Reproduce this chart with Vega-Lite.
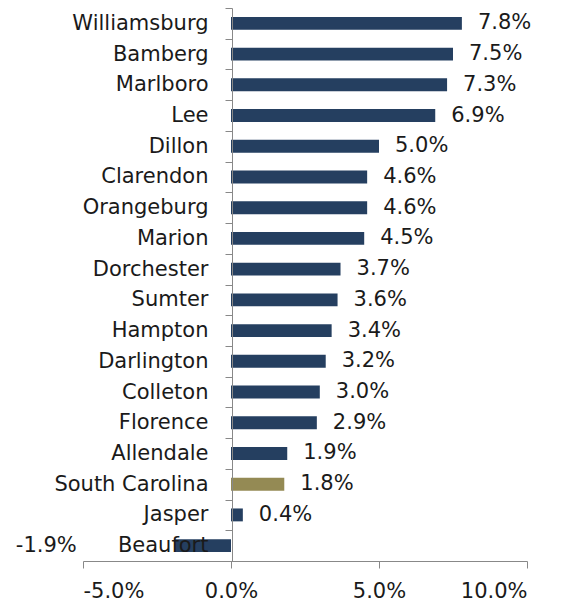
{
  "$schema": "https://vega.github.io/schema/vega-lite/v6.json",
  "width": 444,
  "height": 553,
  "autosize": {"type": "none"},
  "padding": {"left": 83, "top": 8, "right": 47, "bottom": 42},
  "background": "white",
  "config": {
    "view": {"stroke": null},
    "locale": {"number": {"decimal": ".", "thousands": ",", "grouping": [3], "currency": ["$", ""], "minus": "-"}},
    "font": "DejaVu Sans"
  },
  "data": {
    "values": [
      {"county": "Williamsburg", "v": 0.078, "group": "County"},
      {"county": "Bamberg", "v": 0.075, "group": "County"},
      {"county": "Marlboro", "v": 0.073, "group": "County"},
      {"county": "Lee", "v": 0.069, "group": "County"},
      {"county": "Dillon", "v": 0.050, "group": "County"},
      {"county": "Clarendon", "v": 0.046, "group": "County"},
      {"county": "Orangeburg", "v": 0.046, "group": "County"},
      {"county": "Marion", "v": 0.045, "group": "County"},
      {"county": "Dorchester", "v": 0.037, "group": "County"},
      {"county": "Sumter", "v": 0.036, "group": "County"},
      {"county": "Hampton", "v": 0.034, "group": "County"},
      {"county": "Darlington", "v": 0.032, "group": "County"},
      {"county": "Colleton", "v": 0.030, "group": "County"},
      {"county": "Florence", "v": 0.029, "group": "County"},
      {"county": "Allendale", "v": 0.019, "group": "County"},
      {"county": "South Carolina", "v": 0.018, "group": "State"},
      {"county": "Jasper", "v": 0.004, "group": "County"},
      {"county": "Beaufort", "v": -0.019, "group": "County"}
    ]
  },
  "encoding": {
    "y": {
      "field": "county",
      "type": "nominal",
      "sort": null,
      "scale": {"paddingInner": 0, "paddingOuter": 0},
      "axis": {
        "title": null,
        "offset": -149,
        "tickBand": "extent",
        "tickSize": 7,
        "labelPadding": 17,
        "labelFontSize": 21,
        "labelColor": "#1a1a1a",
        "domainColor": "#888888",
        "tickColor": "#888888",
        "labelFont": "DejaVu Sans",
        "zindex": 1
      }
    },
    "x": {
      "field": "v",
      "type": "quantitative",
      "scale": {"domain": [-0.05, 0.1], "nice": false},
      "axis": {
        "title": null,
        "values": [-0.05, 0, 0.05, 0.1],
        "format": ".1%",
        "grid": false,
        "tickSize": 7,
        "labelPadding": 12,
        "labelFontSize": 21,
        "labelColor": "#1a1a1a",
        "domainColor": "#888888",
        "tickColor": "#888888",
        "labelFont": "DejaVu Sans"
      }
    }
  },
  "layer": [
    {
      "mark": {"type": "bar", "height": {"band": 0.42}},
      "encoding": {
        "color": {
          "field": "group",
          "type": "nominal",
          "scale": {"domain": ["County", "State"], "range": ["#253F60", "#948A54"]},
          "legend": null
        }
      }
    },
    {
      "transform": [{"filter": "datum.v >= 0"}],
      "mark": {"type": "text", "align": "left", "baseline": "middle", "dx": 16, "fontSize": 21, "color": "#1a1a1a", "font": "DejaVu Sans"},
      "encoding": {"text": {"field": "v", "type": "quantitative", "format": ".1%"}}
    },
    {
      "transform": [{"filter": "datum.v < 0"}],
      "mark": {"type": "text", "align": "right", "baseline": "middle", "dx": -98, "fontSize": 21, "color": "#1a1a1a", "font": "DejaVu Sans"},
      "encoding": {"text": {"field": "v", "type": "quantitative", "format": ".1%"}}
    }
  ]
}
